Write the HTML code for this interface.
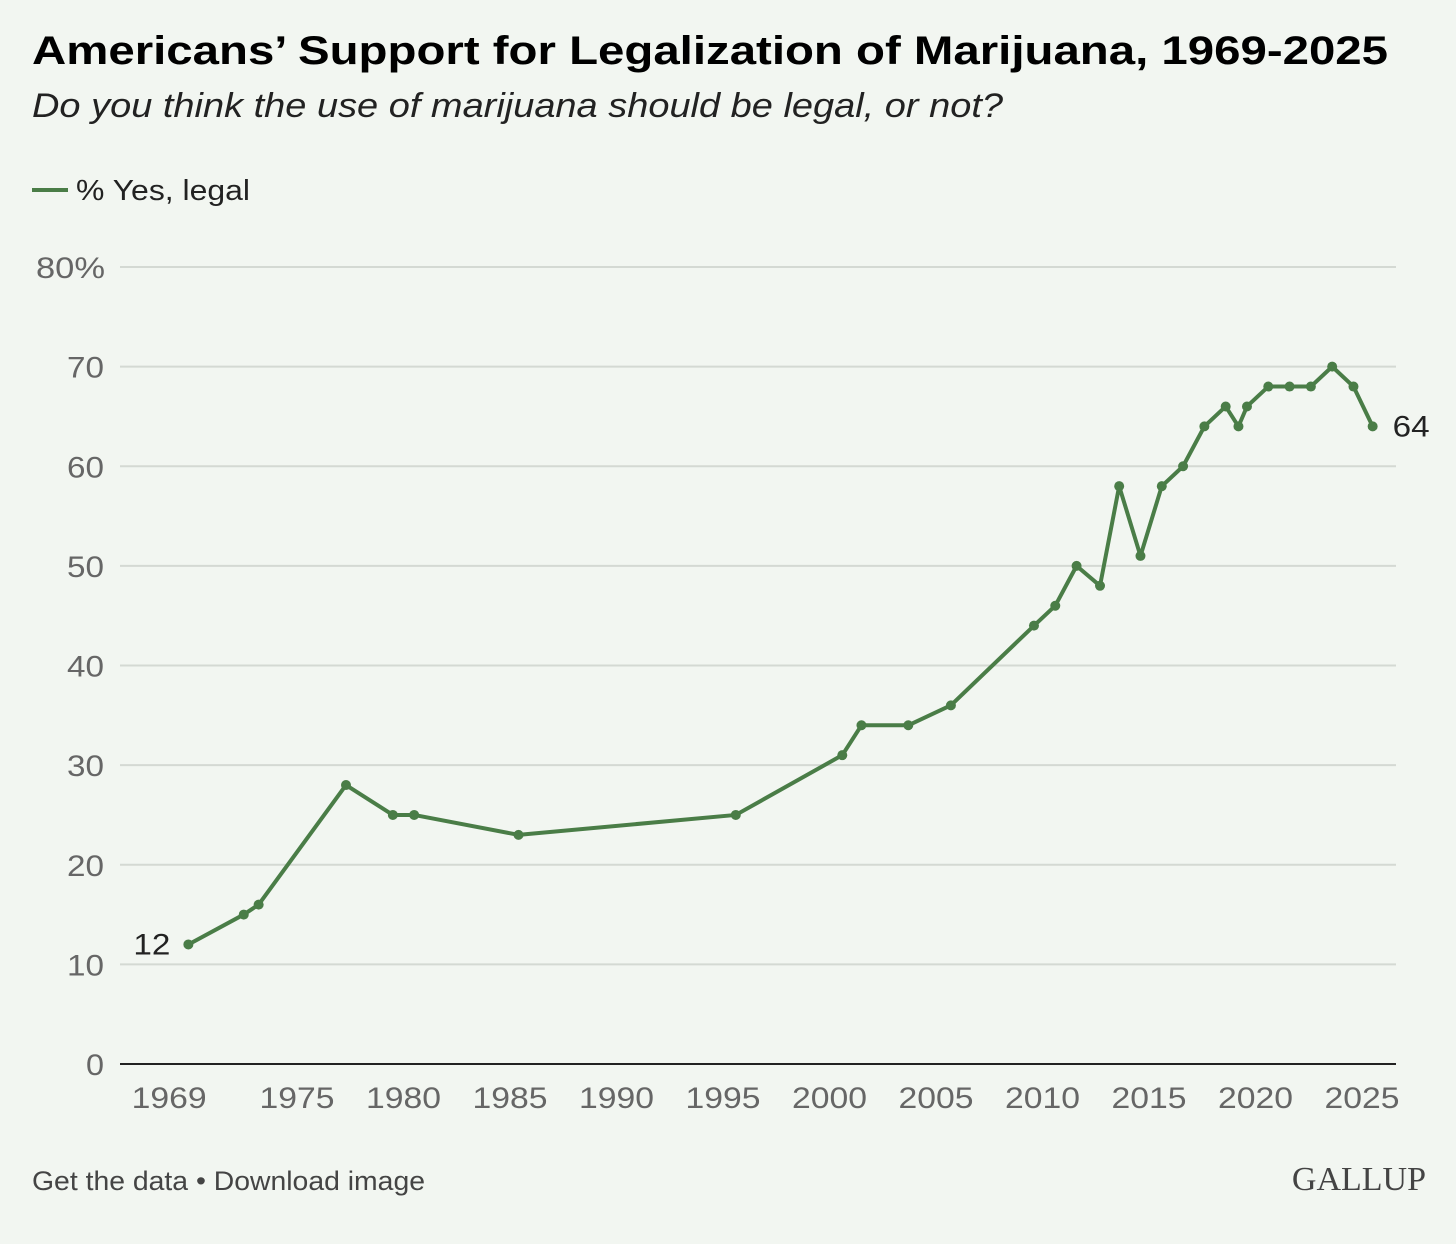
<!DOCTYPE html>
<html><head><meta charset="utf-8"><style>
body{margin:0;background:#f2f6f1;font-family:"Liberation Sans",sans-serif;}
#wrap{position:relative;width:1456px;height:1244px;overflow:hidden;background:#f2f6f1;}
</style></head><body>
<div id="wrap">
<svg id="chart" width="1456" height="1244">
<text x="32" y="64" font-size="40" font-weight="bold" fill="#000" textLength="1356" lengthAdjust="spacingAndGlyphs">Americans’ Support for Legalization of Marijuana, 1969-2025</text>
<text x="32" y="117" font-size="34" font-style="italic" fill="#222" textLength="971" lengthAdjust="spacingAndGlyphs">Do you think the use of marijuana should be legal, or not?</text>
<line x1="32" y1="190" x2="68" y2="190" stroke="#4a7d47" stroke-width="4"/>
<text x="76" y="200" font-size="29" fill="#222" textLength="174" lengthAdjust="spacingAndGlyphs">% Yes, legal</text>
<g id="grid"></g><g id="xt"></g><g id="series"></g>
<text x="32" y="1190" font-size="27" fill="#444" textLength="393" lengthAdjust="spacingAndGlyphs">Get the data • Download image</text>
<text x="1426" y="1190" font-size="34" fill="#444" text-anchor="end" font-family="Liberation Serif,serif">GALLUP</text>
</svg></div>
<script>
const years=[1969.9,1972.5,1973.2,1977.3,1979.5,1980.5,1985.4,1995.6,2000.6,2001.5,2003.7,2005.7,2009.6,2010.6,2011.6,2012.7,2013.6,2014.6,2015.6,2016.6,2017.6,2018.6,2019.2,2019.6,2020.6,2021.6,2022.6,2023.6,2024.6,2025.5];
const values=[12,15,16,28,25,25,23,25,31,34,34,36,44,46,50,48,58,51,58,60,64,66,64,66,68,68,68,70,68,64];
const yTicks=[0,10,20,30,40,50,60,70,80];
const xTicks=[1969,1975,1980,1985,1990,1995,2000,2005,2010,2015,2020,2025];
const NS="http://www.w3.org/2000/svg";
const X=y=>297+(y-1975)*21.3;
const Y=v=>1064-v*9.9625;
function mk(tag,attrs,parent){const e=document.createElementNS(NS,tag);for(const k in attrs)e.setAttribute(k,attrs[k]);parent.appendChild(e);return e;}
const grid=document.getElementById('grid');
yTicks.forEach(t=>{
 const l=mk('line',{x1:120,x2:1396,y1:Y(t),y2:Y(t),stroke:t===0?'#222':'#d4d9d3','stroke-width':2},grid);
 
 
 const lab=t===80?'80%':String(t);
 const w=lab.length===1?18:(lab.length===2?37:69);
 const tx=mk('text',{x:t===80?36:104,y:Y(t)+11,'font-size':30,fill:'#666','text-anchor':t===80?'start':'end',textLength:w,lengthAdjust:'spacingAndGlyphs'},grid);
 tx.textContent=lab;
 
 
});
const xt=document.getElementById('xt');
xTicks.forEach(t=>{
 const tx=mk('text',{x:X(t),y:1108,'font-size':30,fill:'#666','text-anchor':'middle',textLength:75,lengthAdjust:'spacingAndGlyphs'},xt);
 tx.textContent=t;
 
 
});
const s=document.getElementById('series');
const p=mk('polyline',{points:years.map((y,i)=>X(y)+','+Y(values[i])).join(' '),fill:'none',stroke:'#4a7d47','stroke-width':4,'stroke-linejoin':'round'},s);


years.forEach((y,i)=>{
 const c=mk('circle',{cx:X(y),cy:Y(values[i]),r:5,fill:'#4a7d47'},s);
 
 
});
const n=years.length-1;
const a=mk('text',{x:X(years[0])-18,y:Y(values[0])+10,'font-size':30,fill:'#222','text-anchor':'end',textLength:37,lengthAdjust:'spacingAndGlyphs'},s);
a.textContent=values[0];


const b=mk('text',{x:X(years[n])+20,y:Y(values[n])+10,'font-size':30,fill:'#222',textLength:37,lengthAdjust:'spacingAndGlyphs'},s);
b.textContent=values[n];


</script>
</body></html>
